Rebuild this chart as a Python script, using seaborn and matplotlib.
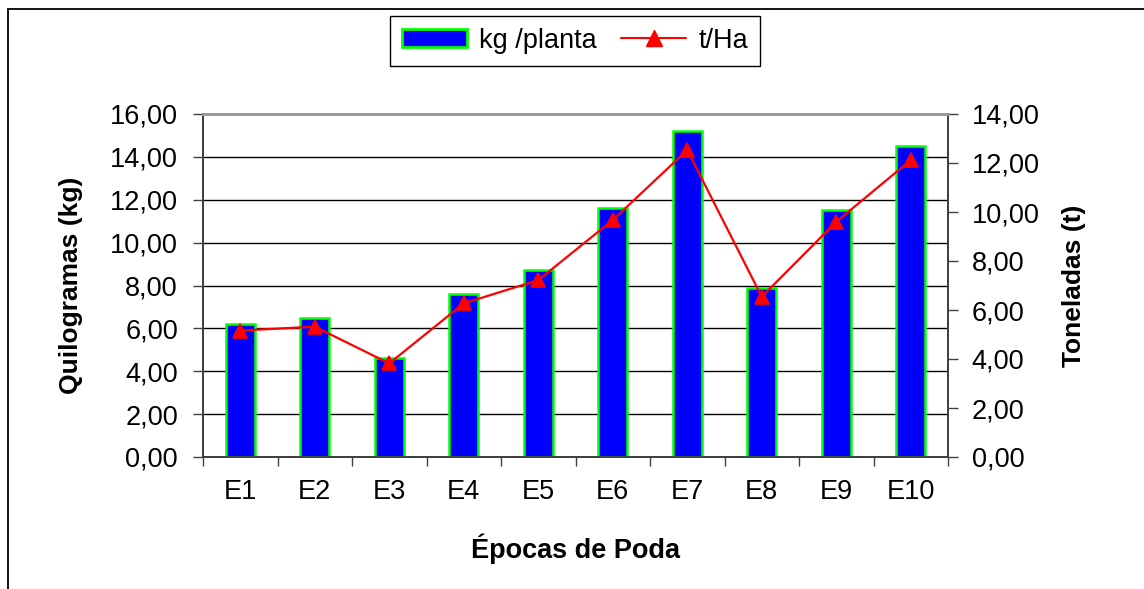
import numpy as np
import matplotlib
matplotlib.use("Agg")
import matplotlib.pyplot as plt
import seaborn as sns
from matplotlib.patches import Patch, Rectangle
from matplotlib.lines import Line2D
from matplotlib.ticker import FuncFormatter, MultipleLocator, FixedLocator

epocas = ["E1", "E2", "E3", "E4", "E5", "E6", "E7", "E8", "E9", "E10"]
kg_planta = [6.2, 6.5, 4.6, 7.6, 8.7, 11.6, 15.2, 7.9, 11.5, 14.5]
t_ha = [5.16, 5.32, 3.82, 6.27, 7.22, 9.67, 12.53, 6.54, 9.60, 12.12]

sns.set_style("white")
plt.rcParams["font.family"] = ["Liberation Sans", "DejaVu Sans"]
plt.rcParams["text.color"] = "black"
plt.rcParams["axes.labelcolor"] = "black"
plt.rcParams["xtick.color"] = "black"
plt.rcParams["ytick.color"] = "black"

W, H = 1144, 589
fig = plt.figure(figsize=(W / 100, H / 100), dpi=100)
ax = fig.add_axes([203 / W, 1 - 457 / H, (948 - 203) / W, (457 - 114) / H])

# outer chart border (only left/top visible, the rest is cut off)
fig.patches.append(Rectangle((7.5 / W, -0.1), 1.2, 1.1 - 9.5 / H, transform=fig.transFigure,
                             fill=False, edgecolor="black", linewidth=1.3, zorder=0))

sns.barplot(x=epocas, y=kg_planta, ax=ax, color="#0000ff", saturation=1, width=0.39,
            edgecolor="#00ff00", linewidth=1.8, zorder=3)

ax2 = ax.twinx()
sns.pointplot(x=epocas, y=t_ha, ax=ax2, color="red", markers="^", markersize=10,
              linewidth=1.6, errorbar=None)

comma = FuncFormatter(lambda v, p: f"{v:.2f}".replace(".", ","))

ax.set_ylim(0, 16)
ax.yaxis.set_major_locator(MultipleLocator(2))
ax.yaxis.set_major_formatter(comma)
ax2.set_ylim(0, 14)
ax2.yaxis.set_major_locator(MultipleLocator(2))
ax2.yaxis.set_major_formatter(comma)

ax.set_xlim(-0.5, len(epocas) - 0.5)
ax.set_xticks(range(len(epocas)))
ax.set_xticklabels(epocas)
ax.xaxis.set_minor_locator(FixedLocator(np.arange(-0.5, len(epocas), 1.0)))

ax.grid(axis="y", color="black", linewidth=1, zorder=0)
ax.grid(axis="x", visible=False)
ax.set_axisbelow(True)

ax.tick_params(axis="y", which="major", direction="out", length=7, width=1, color="#404040",
               pad=11, labelsize=19.5, left=True)
ax.tick_params(axis="x", which="major", length=0, pad=16, labelsize=19.5)
ax.tick_params(axis="x", which="minor", direction="out", length=6.5, width=1, color="#404040",
               bottom=True)
ax2.tick_params(axis="y", direction="out", length=7, width=1, color="#404040",
                pad=10, labelsize=19.5, right=True)

for a in (ax, ax2):
    for s in a.spines.values():
        s.set_visible(True)
        s.set_linewidth(1.3)
        s.set_color("#404040")
    a.spines["top"].set_color("#9a9a9a")
    a.spines["top"].set_linewidth(2)

ax.set_ylabel("Quilogramas (kg)", fontsize=19, fontweight="bold")
ax.yaxis.set_label_coords((83 - 203) / 745, 0.5)
ax2.set_ylabel("Toneladas (t)", fontsize=19, fontweight="bold")
ax2.yaxis.set_label_coords((1062 - 203) / 745, 0.5)
ax.set_xlabel("Épocas de Poda", fontsize=19.5, fontweight="bold")
ax.xaxis.set_label_coords(0.5, (457 - 533) / 343)

handles = [Patch(facecolor="#0000ff", edgecolor="#00ff00", linewidth=2),
           Line2D([], [], color="red", linewidth=1.5, marker="^", markersize=11)]
leg = fig.legend(handles, ["kg /planta", "t/Ha"], loc="upper center",
                 bbox_to_anchor=(575 / W, 1 - 15.5 / H), ncol=2, fontsize=19.5,
                 frameon=True, fancybox=False, edgecolor="black", framealpha=1,
                 handlelength=2.4, handleheight=0.65, handletextpad=0.45,
                 columnspacing=0.9, borderpad=0.45, borderaxespad=0)
leg.get_frame().set_linewidth(1)

fig.savefig("out.png", dpi=100)
